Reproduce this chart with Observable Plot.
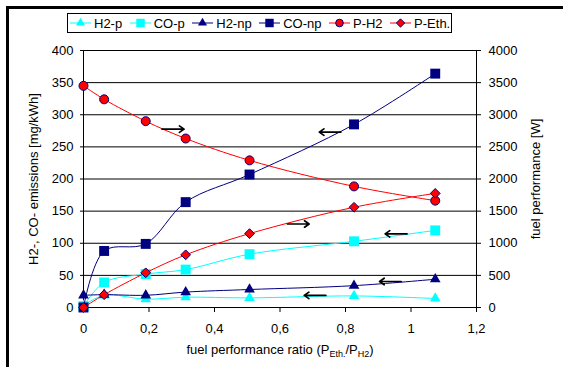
<!DOCTYPE html>
<html><head><meta charset="utf-8">
<script src="https://cdn.jsdelivr.net/npm/d3@7"></script>
<script src="https://cdn.jsdelivr.net/npm/@observablehq/plot@0.6"></script>
<style>
body{margin:0;background:#fff;font-family:"Liberation Sans",Arial,sans-serif;}
#wrap{position:relative;width:563px;height:367px;overflow:hidden;background:#fff}
#frame{position:absolute;left:6px;top:6px;right:-20px;bottom:-20px;border-left:3px solid #000;border-top:3px solid #000;pointer-events:none;z-index:3}
#legendRow{position:relative;height:40px}
#legend{position:absolute;left:67px;top:13px;width:381px;height:18px;border:1px solid #000;display:flex;align-items:center;padding-left:2px;font-size:13px;color:#000;background:#fff}
.item{display:flex;align-items:center;margin-right:7.5px;white-space:nowrap}
.item svg{margin-right:3px;display:block}
#chart svg{display:block}
</style></head>
<body>
<div id="wrap">
  <div id="frame"></div>
  <div id="legendRow"><div id="legend"></div></div>
  <div id="chart"></div>
</div>
<script>
// ---- data ----
const ratio = [0, 0.063, 0.19, 0.312, 0.507, 0.826, 1.074];
const h2p   = [3, 19, 13, 16, 15, 18, 14];          // mg/kWh
const cop   = [2, 39, 52, 59, 83, 103, 120];        // mg/kWh
const h2np  = [19, 20, 19, 24, 28, 34, 44];         // mg/kWh
const conp  = [0, 88, 99, 164, 207, 285, 364];      // mg/kWh
const pH2   = [3450, 3240, 2900, 2630, 2290, 1885, 1663]; // W
const pEth  = [0, 199, 540, 820, 1150, 1560, 1776];       // W

const seriesNames = ["H2-p", "CO-p", "H2-np", "CO-np", "P-H2", "P-Eth."];
const seriesValues = [h2p, cop, h2np, conp, pH2, pEth];
const seriesAxis = ["left", "left", "left", "left", "right", "right"];

const xTicks = [0, 0.2, 0.4, 0.6, 0.8, 1, 1.2];
const yLeftTicks = [0, 50, 100, 150, 200, 250, 300, 350, 400];
const yRightTicks = [0, 500, 1000, 1500, 2000, 2500, 3000, 3500, 4000];

const yLeftTitle = "H2-, CO- emissions [mg/kWh]";
const yRightTitle = "fuel performance [W]";
const xTitleParts = ["fuel performance ratio (P", "/P", ")"];
const xTitleSubs = ["Eth.", "H2"];

// annotation arrows (x in ratio units, y in left-axis units)
const arrowFrom = [0.24, 0.786, 0.623, 0.988, 0.97, 0.74];
const arrowTo   = [0.307, 0.72, 0.689, 0.921, 0.904, 0.674];
const arrowY    = [277.6, 273, 130, 114.6, 40.5, 18.8];

// ---- styles ----
const CYAN = "#00FFFF", NAVY = "#000080", RED = "#FF0000";
const styles = {
  "H2-p":  {line: CYAN, fill: CYAN, stroke: "none", symbol: "triangle2", r: 5.1},
  "CO-p":  {line: CYAN, fill: CYAN, stroke: "none", symbol: "square", r: 5.6},
  "H2-np": {line: NAVY, fill: NAVY, stroke: "none", symbol: "triangle2", r: 5.1},
  "CO-np": {line: NAVY, fill: NAVY, stroke: "none", symbol: "square", r: 5.6},
  "P-H2":  {line: RED, fill: RED, stroke: NAVY, symbol: "circle", r: 4.5},
  "P-Eth.":{line: RED, fill: RED, stroke: NAVY, symbol: "diamond2", r: 4.4}
};

// W values are drawn on the left scale divided by 10 (right axis = left axis x 10)
const rows = seriesNames.map((name, i) => seriesValues[i].map((v, j) => ({
  name, x: ratio[j], y: seriesAxis[i] === "right" ? v / 10 : v
})));
const arrows = arrowY.map((y, i) => ({x1: arrowFrom[i], x2: arrowTo[i], y}));

const marks = [
  Plot.gridY({ticks: yLeftTicks, stroke: "#000", strokeOpacity: 1}),
  Plot.frame({stroke: "#000"}),
  Plot.axisY({ticks: yLeftTicks, anchor: "left", tickSize: 3, tickPadding: 7,
    label: yLeftTitle, labelAnchor: "center", labelArrow: false, labelOffset: 55}),
  Plot.axisY({ticks: yRightTicks.map(w => w / 10), anchor: "right", tickSize: 4, tickPadding: 8,
    tickFormat: d => String(Math.round(d * 10)),
    label: yRightTitle, labelAnchor: "center", labelArrow: false, labelOffset: 63}),
  Plot.axisX({ticks: xTicks, tickSize: 5, tickPadding: 11,
    tickFormat: d => String(d).replace(".", ","),
    label: xTitleParts[0] + xTitleSubs[0] + xTitleParts[1] + xTitleSubs[1] + xTitleParts[2],
    labelAnchor: "center", labelArrow: false, labelOffset: 46})
];
seriesNames.forEach((name, i) => {
  const s = styles[name];
  marks.push(Plot.line(rows[i], {x: "x", y: "y", stroke: s.line, strokeWidth: 1, curve: "catmull-rom"}));
  marks.push(Plot.dot(rows[i], {x: "x", y: "y", symbol: s.symbol, r: s.r, fill: s.fill,
    stroke: s.stroke, strokeWidth: 1}));
});
marks.push(Plot.arrow(arrows, {x1: "x1", y1: "y", x2: "x2", y2: "y", stroke: "#000",
  strokeWidth: 1.7, headLength: 5, headAngle: 70}));

const chart = Plot.plot({
  width: 563, height: 327,
  marginLeft: 83, marginRight: 87, marginTop: 10, marginBottom: 60,
  x: {domain: [0, 1.2]},
  y: {domain: [0, 400]},
  style: {fontFamily: '"Liberation Sans", Arial, sans-serif', fontSize: "13px", color: "#000", background: "#fff", overflow: "visible"},
  marks
});
document.getElementById("chart").appendChild(chart);

// x title with subscripts
const xl = chart.querySelector('[aria-label="x-axis label"] text');
if (xl) {
  const NS = "http://www.w3.org/2000/svg";
  xl.textContent = "";
  xTitleParts.forEach((part, i) => {
    const t = document.createElementNS(NS, "tspan");
    t.textContent = part;
    if (i > 0) t.setAttribute("dy", "-3");
    xl.appendChild(t);
    if (i < xTitleSubs.length) {
      const s = document.createElementNS(NS, "tspan");
      s.textContent = xTitleSubs[i];
      s.setAttribute("dy", "3");
      s.setAttribute("font-size", "9");
      xl.appendChild(s);
    }
  });
}

// legend
const legend = document.getElementById("legend");
seriesNames.forEach(name => {
  const s = styles[name];
  const item = document.createElement("div");
  item.className = "item";
  const sw = d3.create("svg").attr("width", 21).attr("height", 12);
  sw.append("line").attr("x1", 0).attr("x2", 21).attr("y1", 6).attr("y2", 6)
    .attr("stroke", s.line).attr("stroke-width", 1);
  const symMap = {triangle2: d3.symbolTriangle2, square: d3.symbolSquare, circle: d3.symbolCircle, diamond2: d3.symbolDiamond2};
  const rr = s.r * 0.85;
  sw.append("path").attr("transform", "translate(10.5,6)")
    .attr("d", d3.symbol(symMap[s.symbol], rr * rr * Math.PI)())
    .attr("fill", s.fill).attr("stroke", s.stroke).attr("stroke-width", 1);
  item.appendChild(sw.node());
  const label = document.createElement("span");
  label.textContent = name;
  item.appendChild(label);
  legend.appendChild(item);
});
</script>
</body></html>
